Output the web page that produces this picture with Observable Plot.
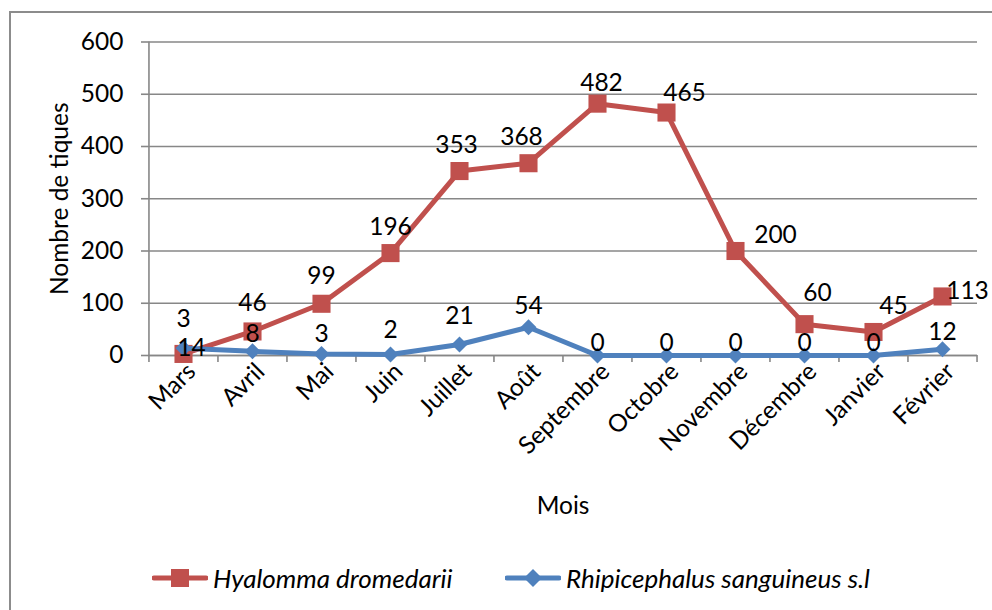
<!DOCTYPE html>
<html>
<head>
<meta charset="utf-8">
<script src="https://cdn.jsdelivr.net/npm/d3@7"></script>
<script src="https://cdn.jsdelivr.net/npm/@observablehq/plot@0.6"></script>
<style>
  html, body { margin: 0; padding: 0; background: #fff; overflow: hidden; }
  body { width: 992px; height: 610px; position: relative; font-family: Lato, "Open Sans", sans-serif; }
  #frame { position: absolute; left: 9px; top: 11px; width: 1200px; height: 800px;
           border-left: 2px solid #8c8c8c; border-top: 2px solid #8c8c8c; }
  #chart { position: absolute; left: 0; top: 0; }
  #legend { position: absolute; left: 0; top: 550px; width: 992px; height: 60px; font-size: 26px; font-style: italic; color: #000; }
  .item { position: absolute; top: 13px; display: flex; align-items: center; height: 30px; white-space: nowrap; }
  .item svg { margin-right: 5px; }
</style>
</head>
<body>
<div id="frame"></div>
<div id="chart"></div>
<div id="legend"></div>
<script>
const months = ["Mars", "Avril", "Mai", "Juin", "Juillet", "Août", "Septembre", "Octobre", "Novembre", "Décembre", "Janvier", "Février"];
const hyalomma = [3, 46, 99, 196, 353, 368, 482, 465, 200, 60, 45, 113];
const rhipicephalus = [14, 8, 3, 2, 21, 54, 0, 0, 0, 0, 0, 12];
const yTicks = [0, 100, 200, 300, 400, 500, 600];
const seriesNames = ["Hyalomma dromedarii", "Rhipicephalus sanguineus s.l"];

const RED = "#C0504D", BLUE = "#4F81BD", GRID = "#878787";
const FS = 24.5;

const hData = months.map((m, i) => ({month: m, value: hyalomma[i], i}));
const rData = months.map((m, i) => ({month: m, value: rhipicephalus[i], i}));

// label nudges (pixels) mimicking the manual placement of the original labels
const hNudge = [[0,-35],[0,-28],[0,-28],[0,-26],[-3,-26],[-7,-26],[4,-20],[18,-19],[40,-16],[13,-31],[20,-26],[25,-5]];
const rNudge = [[8,0],[0,-17],[0,-20],[0,-24],[0,-28],[0,-21],[0,-12],[0,-12],[0,-12],[0,-12],[0,-12],[0,-17]];

const W = 992, H = 550;
const mL = 148, mR = 15, mT = 41.5, mB = H - 355;
const step = (W - mL - mR) / months.length;

const labelMarks = [];
hData.forEach((d, k) => labelMarks.push(Plot.text([d], {x: "month", y: "value", text: d => String(d.value), dx: hNudge[k][0], dy: hNudge[k][1], fill: "#000", fontSize: FS})));
rData.forEach((d, k) => labelMarks.push(Plot.text([d], {x: "month", y: "value", text: d => String(d.value), dx: rNudge[k][0], dy: rNudge[k][1], fill: "#000", fontSize: FS})));

const plot = Plot.plot({
  width: W, height: H,
  marginLeft: mL, marginRight: mR, marginTop: mT, marginBottom: mB,
  style: {fontFamily: "Lato, 'Open Sans', sans-serif", fontSize: FS + "px", color: "#000", background: "transparent", overflow: "visible"},
  x: {type: "point", domain: months, padding: 0.5},
  y: {domain: [0, 600]},
  marks: [
    Plot.gridY(yTicks, {stroke: GRID, strokeOpacity: 1, strokeWidth: 1.6}),
    // y axis: ticks and labels
    Plot.axisY({ticks: yTicks, tickSize: 7, tickPadding: 18, stroke: GRID, strokeWidth: 1.6, label: null, fontSize: FS}),
    Plot.ruleX([months[0]], {dx: -step/2, y1: 0, y2: 600, stroke: GRID, strokeWidth: 1.6}),
    // x axis line
    Plot.ruleY([0], {stroke: GRID, strokeWidth: 1.6}),
    // x ticks at band boundaries
    Plot.axisX({ticks: months, tickSize: 7, dx: -step/2, text: null, label: null, stroke: GRID, strokeWidth: 1.6}),
    Plot.axisX({ticks: [months[months.length-1]], tickSize: 7, dx: step/2, text: null, label: null, stroke: GRID, strokeWidth: 1.6}),
    // x tick labels
    Plot.axisX({ticks: months, tickSize: 0, tickPadding: 12, tickRotate: -45, dx: 8, label: null, fontSize: FS}),
    // series
    Plot.line(hData, {x: "month", y: "value", stroke: RED, strokeWidth: 5}),
    Plot.dot(hData, {x: "month", y: "value", symbol: "square", r: 10.2, fill: RED, stroke: "none"}),
    Plot.line(rData, {x: "month", y: "value", stroke: BLUE, strokeWidth: 5}),
    Plot.dot(rData, {x: "month", y: "value", symbol: "diamond2", r: 7.2, fill: BLUE, stroke: "none"}),
    ...labelMarks,
    // axis titles
    Plot.text(["Nombre de tiques"], {frameAnchor: "left", textAnchor: "middle", dx: -88, rotate: -90, fontSize: FS, fill: "#000"}),
    Plot.text(["Mois"], {frameAnchor: "bottom", dy: 158, fontSize: FS, fill: "#000"})
  ]
});
document.getElementById("chart").appendChild(plot);

// legend
const legend = document.getElementById("legend");
const items = [
  {name: seriesNames[0], color: RED, sym: "square", left: 152, lineW: 56},
  {name: seriesNames[1], color: BLUE, sym: "diamond", left: 505, lineW: 56}
];
items.forEach(it => {
  const div = document.createElement("div");
  div.className = "item";
  div.style.left = it.left + "px";
  const c = it.lineW / 2;
  const shape = it.sym === "square"
    ? `<rect x="${c-9}" y="6" width="18" height="18" fill="${it.color}"/>`
    : `<path d="M${c},6 L${c+9},15 L${c},24 L${c-9},15 Z" fill="${it.color}"/>`;
  div.innerHTML = `<svg width="${it.lineW}" height="30"><line x1="2" x2="${it.lineW-2}" y1="15" y2="15" stroke="${it.color}" stroke-width="5" stroke-linecap="round"/>${shape}</svg><span>${it.name}</span>`;
  legend.appendChild(div);
});
</script>
</body>
</html>
